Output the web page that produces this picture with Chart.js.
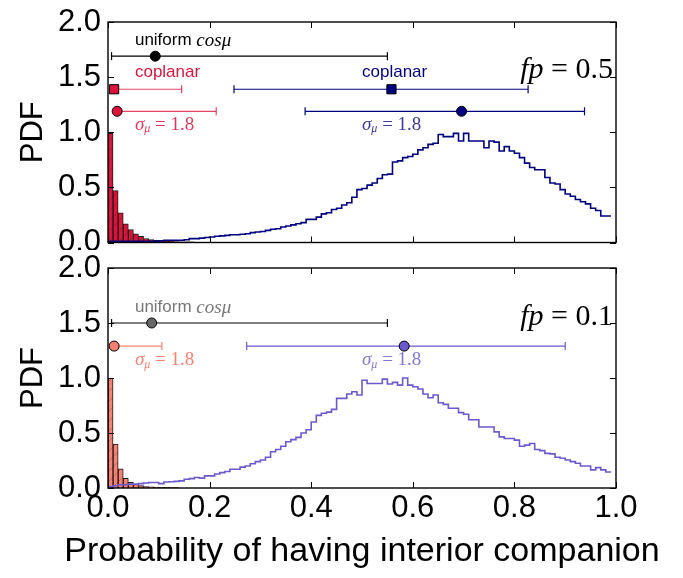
<!DOCTYPE html>
<html>
<head>
<meta charset="utf-8">
<script src="https://cdn.jsdelivr.net/npm/chart.js@4.4.1/dist/chart.umd.min.js"></script>
<style>
  html, body { margin: 0; padding: 0; background: #fff; }
  #wrap { position: relative; width: 683px; height: 578px; }
  canvas { position: absolute; left: 0; }
  #top { top: 0; }
  #bottom { top: 250px; }
</style>
</head>
<body>
<div id="wrap">
  <canvas id="top" width="683" height="250"></canvas>
  <canvas id="bottom" width="683" height="328"></canvas>
</div>
<script>
// histogram bins are 0.01 wide, starting at 0
const binWidth = 0.01;
const xTicks = [0, 0.2, 0.4, 0.6, 0.8, 1.0];
const yTicks = [0, 0.5, 1.0, 1.5, 2.0];
const xLabel = 'Probability of having interior companion';

// fp = 0.5 panel
const topCoplanarHist = [0.99, 0.47, 0.27, 0.17, 0.118, 0.079, 0.057, 0.036, 0.027, 0.02,
  0.016, 0.013, 0.011, 0.009, 0.007, 0.006, 0.005];
const topSigmaHist = [
  0.01, 0.01, 0.01, 0.01, 0.01, 0.01, 0.01, 0.01, 0.01, 0.01,
  0.015, 0.02, 0.02, 0.02, 0.02, 0.025, 0.035, 0.035, 0.04, 0.045,
  0.05, 0.057, 0.06, 0.065, 0.07, 0.07, 0.075, 0.08, 0.09, 0.095,
  0.10, 0.11, 0.12, 0.125, 0.14, 0.15, 0.16, 0.17, 0.18, 0.21,
  0.21, 0.23, 0.26, 0.27, 0.30, 0.31, 0.34, 0.36, 0.41, 0.48,
  0.49, 0.52, 0.54, 0.58, 0.615, 0.62, 0.73, 0.74, 0.77, 0.78,
  0.80, 0.84, 0.86, 0.89, 0.90, 0.98, 0.96, 0.96, 0.99, 0.92,
  0.99, 0.92, 0.92, 0.92, 0.86, 0.92, 0.91, 0.83, 0.87, 0.83,
  0.81, 0.77, 0.72, 0.68, 0.66, 0.66, 0.59, 0.54, 0.53, 0.48,
  0.44, 0.42, 0.39, 0.37, 0.35, 0.31, 0.29, 0.24, 0.24];
// [low, centre, high] and the row they sit on
const topUniformErr = [0.007, 0.093, 0.55];
const topCoplanarRedErr = [0.012, 0.012, 0.145];
const topSigmaRedErr = [0.018, 0.018, 0.213];
const topCoplanarBlueErr = [0.248, 0.558, 0.827];
const topSigmaBlueErr = [0.388, 0.696, 0.938];
const topRows = [1.69, 1.39, 1.19];

// fp = 0.1 panel
const botCoplanarHist = [1.0, 0.40, 0.175, 0.088, 0.052, 0.034, 0.021, 0.014, 0.01, 0.008,
  0.006, 0.005, 0.004, 0.003];
const botSigmaHist = [
  0.01, 0.02, 0.03, 0.03, 0.035, 0.035, 0.04, 0.045, 0.05, 0.05,
  0.04, 0.055, 0.057, 0.06, 0.065, 0.08, 0.085, 0.095, 0.09, 0.11,
  0.11, 0.127, 0.14, 0.15, 0.17, 0.17, 0.19, 0.20, 0.22, 0.24,
  0.255, 0.28, 0.33, 0.35, 0.38, 0.42, 0.44, 0.46, 0.50, 0.53,
  0.60, 0.66, 0.68, 0.69, 0.715, 0.815, 0.815, 0.855, 0.875, 0.845,
  0.98, 0.95, 0.95, 0.95, 0.99, 0.945, 0.96, 0.935, 1.0, 0.935,
  0.92, 0.90, 0.855, 0.82, 0.845, 0.775, 0.76, 0.725, 0.725, 0.685,
  0.67, 0.62, 0.62, 0.555, 0.555, 0.555, 0.51, 0.465, 0.45, 0.45,
  0.435, 0.38, 0.39, 0.405, 0.35, 0.34, 0.315, 0.31, 0.28, 0.27,
  0.255, 0.24, 0.225, 0.20, 0.20, 0.165, 0.185, 0.165, 0.145];
const botUniformErr = [0.007, 0.086, 0.55];
const botSigmaRedErr = [0.012, 0.012, 0.106];
const botSigmaBlueErr = [0.273, 0.583, 0.90];
const botRows = [1.5, 1.29];

const SANS = '"Liberation Sans", Arial, sans-serif';
const SERIF = '"Liberation Serif", "DejaVu Serif", serif';

function stepPoints(vals) {
  const pts = vals.map((v, i) => ({x: i * binWidth, y: v}));
  pts.push({x: vals.length * binWidth, y: vals[vals.length - 1]});
  return pts;
}
function barPoints(vals) {
  return vals.map((v, i) => ({x: (i + 0.5) * binWidth, y: v}));
}

// fill with faint diagonal hatching, as in the original bars
function hatch(color) {
  const c = document.createElement('canvas');
  c.width = 10; c.height = 10;
  const g = c.getContext('2d');
  g.fillStyle = color;
  g.fillRect(0, 0, 10, 10);
  g.strokeStyle = 'rgba(0,0,0,0.25)';
  g.lineWidth = 0.8;
  g.beginPath();
  g.moveTo(0, 10); g.lineTo(10, 0);
  g.stroke();
  return g.createPattern(c, 'repeat');
}

function errorBar(err, y, color, marker, fill, size) {
  return [
    {
      type: 'line', data: [{x: err[0], y: y}, {x: err[2], y: y}],
      borderColor: color, borderWidth: 1.2,
      pointStyle: 'line', pointRotation: 90, pointRadius: 4,
      pointBorderColor: color, pointBorderWidth: 1.2,
      clip: false, order: 0
    },
    {
      type: 'line', showLine: false, data: [{x: err[1], y: y}],
      pointStyle: marker, pointRadius: size,
      pointBackgroundColor: fill, pointBorderColor: '#000', pointBorderWidth: 1,
      clip: false, order: -1
    }
  ];
}

// box round the plot with inward ticks, like the original
const frame = {
  id: 'frame',
  afterDatasetsDraw(chart) {
    const {ctx, chartArea: a, scales: {x, y}} = chart;
    ctx.save();
    ctx.strokeStyle = '#000';
    ctx.lineWidth = 1;
    ctx.beginPath();
    xTicks.forEach(v => {
      const px = Math.round(x.getPixelForValue(v)) + 0.5;
      ctx.moveTo(px, a.bottom); ctx.lineTo(px, a.bottom - 6);
      ctx.moveTo(px, a.top); ctx.lineTo(px, a.top + 6);
    });
    yTicks.forEach(v => {
      const py = Math.round(y.getPixelForValue(v)) + 0.5;
      ctx.moveTo(a.left, py); ctx.lineTo(a.left + 6, py);
      ctx.moveTo(a.right, py); ctx.lineTo(a.right - 6, py);
    });
    ctx.stroke();
    ctx.lineWidth = 1.4;
    ctx.strokeRect(a.left, a.top, a.right - a.left, a.bottom - a.top);
    ctx.restore();
  }
};

// the x title is drawn by hand so Chart.js does not squeeze it to the plot width
const xTitle = {
  id: 'xTitle',
  afterDraw(chart) {
    const {ctx, chartArea: a} = chart;
    ctx.save();
    ctx.font = '34px ' + SANS;
    ctx.fillStyle = '#000';
    ctx.textAlign = 'center';
    ctx.textBaseline = 'middle';
    ctx.fillText(xLabel, (a.left + a.right) / 2, a.bottom + 64);
    ctx.restore();
  }
};

function textLayer(items) {
  return {
    id: 'textLayer',
    afterDraw(chart) {
      const {ctx, scales: {x, y}} = chart;
      ctx.save();
      ctx.textBaseline = 'middle';
      items.forEach(t => {
        let w = 0;
        t.parts.forEach(p => { ctx.font = p.font; w += ctx.measureText(p.text).width; });
        let px = x.getPixelForValue(t.x);
        if (t.align === 'right') px -= w;
        const py = y.getPixelForValue(t.y);
        t.parts.forEach(p => {
          ctx.font = p.font;
          ctx.fillStyle = t.color;
          ctx.fillText(p.text, px, py + (p.dy || 0));
          px += ctx.measureText(p.text).width;
        });
      });
      ctx.restore();
    }
  };
}

function sigmaParts() {
  return [
    {text: 'σ', font: 'italic 19px ' + SERIF},
    {text: 'μ', font: 'italic 12px ' + SERIF, dy: 4},
    {text: ' = 1.8', font: '19px ' + SERIF}
  ];
}
function uniformParts() {
  return [
    {text: 'uniform ', font: '17px ' + SANS},
    {text: 'cosμ', font: 'italic 19px ' + SERIF}
  ];
}
function fpParts(v) {
  return [
    {text: 'fp', font: 'italic 30px ' + SERIF},
    {text: ' = ' + v, font: '30px ' + SERIF}
  ];
}

function makePanel(id, datasets, items, showX) {
  const plugins = [frame, textLayer(items)];
  if (showX) plugins.push(xTitle);
  new Chart(document.getElementById(id), {
    type: 'line',
    data: {datasets: datasets},
    options: {
      responsive: false,
      devicePixelRatio: 1,
      animation: false,
      events: [],
      layout: {padding: {left: 0, right: 67, top: showX ? 18 : 22, bottom: showX ? 0 : 7}},
      plugins: {legend: {display: false}, tooltip: {enabled: false}},
      scales: {
        x: {
          type: 'linear', min: 0, max: 1, offset: false,
          grid: {display: false, drawTicks: false},
          border: {display: false},
          afterBuildTicks: s => { s.ticks = xTicks.map(v => ({value: v})); },
          ticks: {
            display: showX, color: '#000', padding: 2, maxRotation: 0, autoSkip: false,
            font: {family: SANS, size: 31},
            callback: v => v.toFixed(1)
          },
          afterFit: s => { s.height = showX ? 90 : 0; }
        },
        y: {
          type: 'linear', min: 0, max: 2,
          grid: {display: false, drawTicks: false},
          border: {display: false},
          afterBuildTicks: s => { s.ticks = yTicks.map(v => ({value: v})); },
          ticks: {
            color: '#000', padding: 7,
            font: {family: SANS, size: 31},
            callback: v => v.toFixed(1)
          },
          title: {
            display: true, text: 'PDF', color: '#000',
            font: {family: SANS, size: 31}, padding: {top: 15, bottom: 0}
          },
          afterFit: s => { s.width = 108; s.paddingTop = 0; s.paddingBottom = 0; }
        }
      }
    },
    plugins: plugins
  });
}

// top panel, fp = 0.5
makePanel('top', [
  ...errorBar(topUniformErr, topRows[0], '#000', 'circle', '#000', 5),
  ...errorBar(topCoplanarRedErr, topRows[1], 'rgba(220,20,60,0.8)', 'rect', '#DC143C', 6.5),
  ...errorBar(topSigmaRedErr, topRows[2], 'rgba(220,20,60,0.8)', 'circle', '#DC143C', 5),
  ...errorBar(topCoplanarBlueErr, topRows[1], '#000080', 'rect', '#000080', 6.5),
  ...errorBar(topSigmaBlueErr, topRows[2], '#000080', 'circle', '#000080', 5),
  {
    type: 'line', data: stepPoints(topSigmaHist), stepped: true,
    borderColor: '#000080', borderWidth: 1.6, pointRadius: 0, order: 1
  },
  {
    type: 'bar', data: barPoints(topCoplanarHist),
    backgroundColor: hatch('#DC143C'), borderColor: '#1a1a1a', borderWidth: 1,
    barPercentage: 1, categoryPercentage: 1, order: 2
  }
], [
  {x: 0.053, y: 1.83, color: '#000', parts: uniformParts()},
  {x: 0.053, y: 1.54, color: '#DC143C', parts: [{text: 'coplanar', font: '17px ' + SANS}]},
  {x: 0.053, y: 1.07, color: 'rgba(220,20,60,0.85)', parts: sigmaParts()},
  {x: 0.50, y: 1.54, color: '#000080', parts: [{text: 'coplanar', font: '17px ' + SANS}]},
  {x: 0.50, y: 1.07, color: '#3a3aa0', parts: sigmaParts()},
  {x: 0.994, y: 1.56, color: '#000', align: 'right', parts: fpParts('0.5')}
], false);

// bottom panel, fp = 0.1
makePanel('bottom', [
  ...errorBar(botUniformErr, botRows[0], '#000', 'circle', '#666666', 5),
  ...errorBar(botSigmaRedErr, botRows[1], '#FA8072', 'circle', '#FA8072', 5),
  ...errorBar(botSigmaBlueErr, botRows[1], '#6A5ACD', 'circle', '#6A5ACD', 5),
  {
    type: 'line', data: stepPoints(botSigmaHist), stepped: true,
    borderColor: '#6A5ACD', borderWidth: 1.6, pointRadius: 0, order: 1
  },
  {
    type: 'bar', data: barPoints(botCoplanarHist),
    backgroundColor: hatch('#FA8072'), borderColor: '#1a1a1a', borderWidth: 1,
    barPercentage: 1, categoryPercentage: 1, order: 2
  }
], [
  {x: 0.053, y: 1.64, color: '#777777', parts: uniformParts()},
  {x: 0.053, y: 1.16, color: '#FA8072', parts: sigmaParts()},
  {x: 0.50, y: 1.16, color: '#8377d8', parts: sigmaParts()},
  {x: 0.994, y: 1.55, color: '#000', align: 'right', parts: fpParts('0.1')}
], true);
</script>
</body>
</html>
